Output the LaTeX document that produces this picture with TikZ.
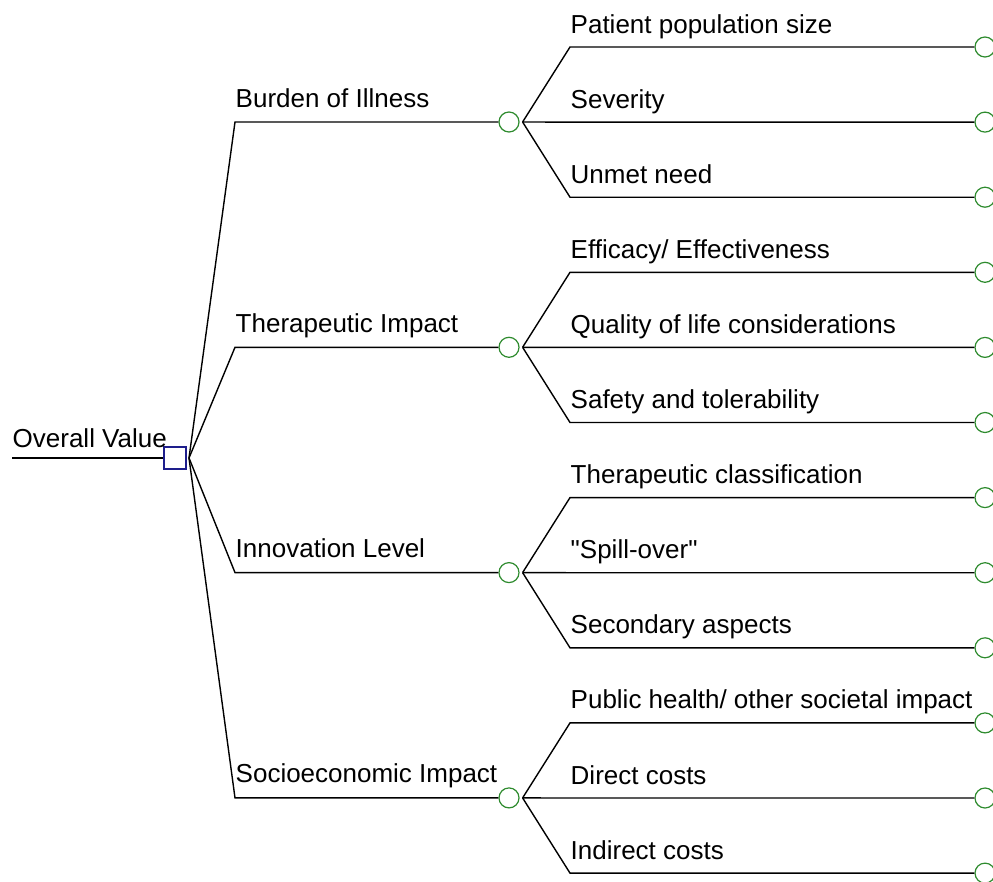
\documentclass[tikz,border=0pt]{standalone}
\usepackage{fontspec}
\setmainfont{Liberation Sans}
\definecolor{chancegreen}{RGB}{46,139,46}
\definecolor{decisionblue}{RGB}{30,30,140}
\tikzstyle{chance node}   = [circle,draw=chancegreen,line width=1.2pt,minimum size=20pt,inner sep=0]
\tikzstyle{decision node} = [rectangle,draw=decisionblue,line width=1.3pt,minimum size=22pt,inner sep=0]
\tikzstyle{label node}    = [anchor=base west,inner sep=0]

\begin{document}
\begin{tikzpicture}[x=1pt,y=-1pt,
                    font=\fontsize{26}{31}\selectfont,
                    line width=1.4pt
                    ]
\useasboundingbox (0,0) rectangle (993,881);

    % decision node
    \coordinate (in) at (12,458);
    \node(root)[decision node] at (175,458){};
    \coordinate (fan) at (189,458);
    \draw (in) -- (root.west);
    \node[label node] at ([yshift=11pt]in) {Overall Value};

    % criteria
    \foreach \crit [count=\i from 0] in {Burden of Illness, Therapeutic Impact, Innovation Level, Socioeconomic Impact}{
        \pgfmathsetmacro\ycrit{122+225.3*\i}
        \coordinate (b\i) at (235,\ycrit);
        \node(c\i)[chance node] at (509,\ycrit){};
        \draw (fan) -- (b\i) -- (c\i.west);
        \node[label node] at ([yshift=15pt]b\i) {\crit};
    }

    % sub-criteria
    \foreach \sub [count=\j from 0] in {Patient population size, Severity, Unmet need,
        Efficacy/ Effectiveness, Quality of life considerations, Safety and tolerability,
        Therapeutic classification, \textquotedbl Spill-over\textquotedbl, Secondary aspects,
        Public health/ other societal impact, Direct costs, Indirect costs}{
        \pgfmathsetmacro\ysub{47+75.1*\j}
        \pgfmathtruncatemacro\grp{floor((\j+0.5)/3)}
        \coordinate (s\j) at (570,\ysub);
        \node(e\j)[chance node] at (985,\ysub){};
        \draw ([xshift=3pt]c\grp.east) -- (s\j) -- (e\j.west);
        \node[label node] at ([yshift=14pt]s\j) {\sub};
    }

\end{tikzpicture}
\end{document}
